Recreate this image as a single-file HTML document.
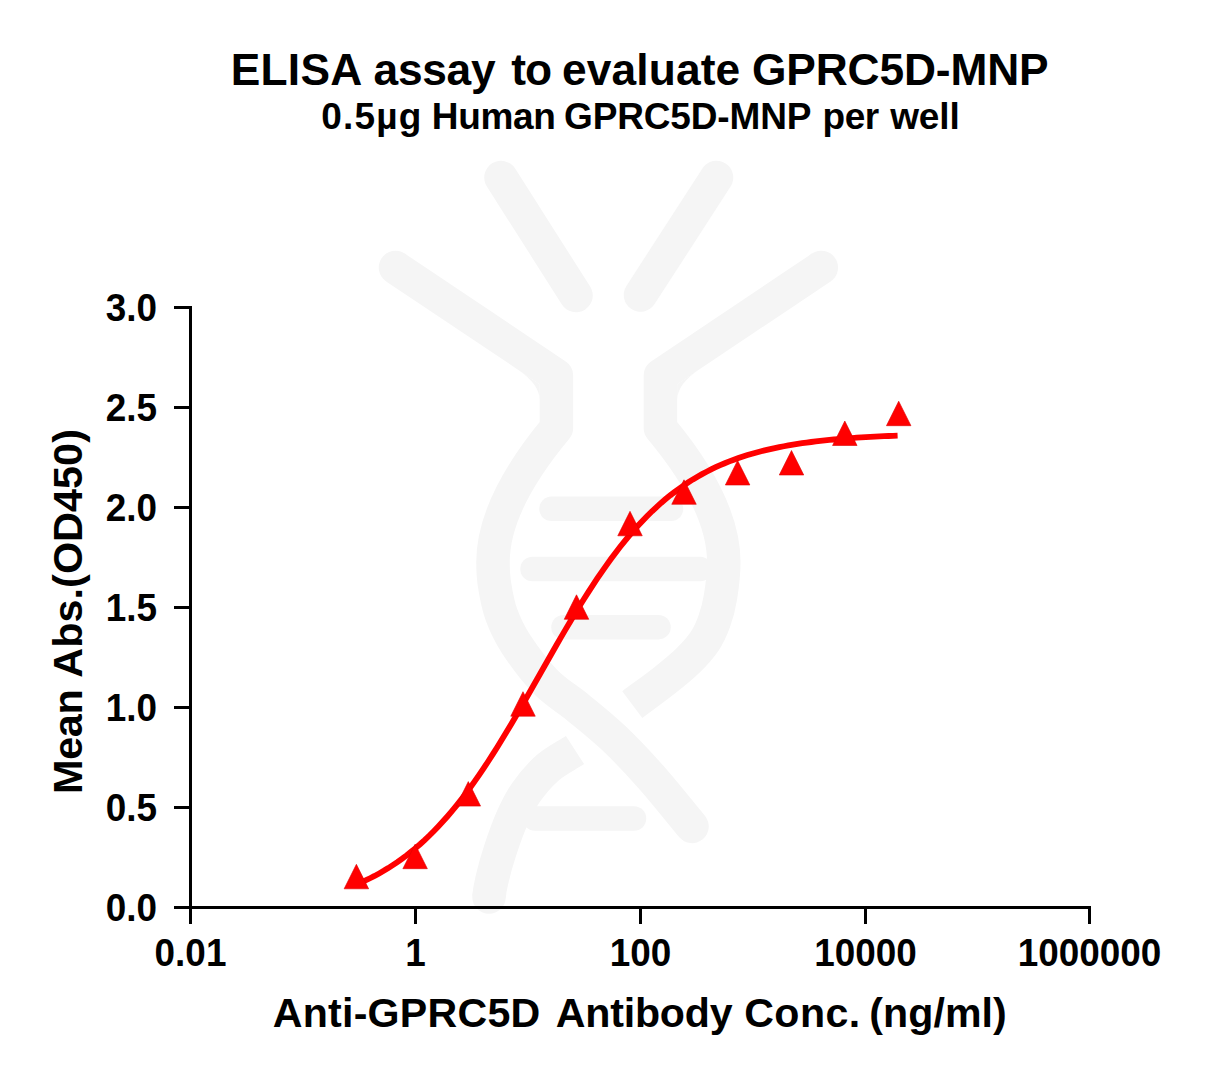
<!DOCTYPE html>
<html><head><meta charset="utf-8"><style>
html,body{margin:0;padding:0;background:#fff;}
svg{display:block;}
text{font-family:"Liberation Sans",Arial,sans-serif;font-weight:bold;fill:#000;}
.tk{font-size:36.9px;}
</style></head><body>
<svg width="1217" height="1079" viewBox="0 0 1217 1079">
<rect width="1217" height="1079" fill="#fff"/>

<g fill="none" stroke="#f5f5f5" stroke-width="33.5" stroke-linecap="round" stroke-linejoin="round">
 <path d="M501 177.5 L576 295.5"/>
 <path d="M716.5 177.5 L640.5 295"/>
 <path d="M395.5 267.5 L556.4 375.3 L556.4 428.0 C527.6 462.6 493.0 512.0 493.0 562.0 C493.0 570.3 493.1 575.8 494.5 584.5 C495.9 593.2 497.6 604.1 501.2 614.0 C504.8 623.9 508.6 632.7 516.0 644.0 C523.4 655.3 535.1 671.2 545.5 681.9 C555.9 692.5 567.0 698.6 578.4 707.9 C589.8 717.2 601.6 726.5 613.6 737.9 C625.6 749.3 637.3 761.6 650.4 776.4 C663.5 791.1 678.1 809.7 692.0 826.4"/>
</g>
<g fill="none" stroke="#f5f5f5" stroke-width="33.5" stroke-linecap="butt">
 <path d="M575 750 C566.0 755.8 556.2 760.4 548.0 767.5 C539.8 774.6 532.0 783.9 526.0 792.5 C520.0 801.1 516.0 809.5 511.7 819.3 C507.4 829.0 503.2 841.3 500.0 851.0 C496.8 860.7 494.3 869.9 492.5 877.6 C490.7 885.3 489.7 888.7 489.0 897.0"/>
</g>
<circle cx="489" cy="897" r="16.75" fill="#f5f5f5"/>
<g fill="none" stroke="#f5f5f5" stroke-width="33.5" stroke-linecap="butt" stroke-linejoin="round">
 <path d="M821.3 267.5 L660.4 375.3 L660.4 428.0 C689.2 462.6 723.8 512.0 723.8 562.0 C723.8 570.3 722.1 587.1 720.5 597.0 C718.9 606.9 716.9 614.1 714.2 621.5 C711.5 628.9 709.0 634.9 704.5 641.5 C700.0 648.1 694.2 654.5 687.5 661.0 C680.8 667.5 673.7 673.2 664.5 680.5 C655.3 687.8 643.0 696.6 632.3 704.6"/>
</g>
<circle cx="821.3" cy="267.5" r="16.75" fill="#f5f5f5"/>
<path fill="#f5f5f5" d="M518 369.7 L539.65 384.3 L539.65 400 Q539.65 384.3 518 369.7Z M698.80 369.7 L677.15 384.3 L677.15 400 Q677.15 384.3 698.80 369.7Z"/>
<g stroke="#f5f5f5" stroke-width="24.5" stroke-linecap="round">
 <path d="M551.5 508.8 L671 508.8"/>
 <path d="M532.5 569 L700 569"/>
 <path d="M563.5 627.2 L658.5 627.2"/>
 <path d="M535 818.5 L634 818.5"/>
</g>

<text x="230.7" y="85" style="font-size:44.3px;letter-spacing:0.275px">ELISA</text><text x="373.6" y="85" style="font-size:44.3px;letter-spacing:-0.3px">assay</text><text x="511.3" y="85" style="font-size:44.3px;letter-spacing:-1.1px">to</text><text x="562.0" y="85" style="font-size:44.3px;letter-spacing:0.129px">evaluate</text><text x="751.9" y="85" style="font-size:44.3px;letter-spacing:-0.122px">GPRC5D-MNP</text><text x="321.2" y="129" style="font-size:37px;letter-spacing:1.2px">0.5µg</text><text x="431.8" y="129" style="font-size:37px;letter-spacing:-0.325px">Human</text><text x="564.1" y="129" style="font-size:37px;letter-spacing:-0.156px">GPRC5D-MNP</text><text x="822.6" y="129" style="font-size:37px;letter-spacing:-0.45px">per</text><text x="890.2" y="129" style="font-size:37px;letter-spacing:-0.1px">well</text>
<g fill="#000">
<rect x="189" y="306" width="3" height="603"/>
<rect x="174" y="906" width="917" height="3"/>
<rect x="174" y="906.0" width="17" height="3"/><text transform="translate(157 920.8) scale(1 1.035)" text-anchor="end" class="tk">0.0</text><rect x="174" y="806.0" width="17" height="3"/><text transform="translate(157 820.8) scale(1 1.035)" text-anchor="end" class="tk">0.5</text><rect x="174" y="706.0" width="17" height="3"/><text transform="translate(157 720.8) scale(1 1.035)" text-anchor="end" class="tk">1.0</text><rect x="174" y="606.0" width="17" height="3"/><text transform="translate(157 620.8) scale(1 1.035)" text-anchor="end" class="tk">1.5</text><rect x="174" y="506.0" width="17" height="3"/><text transform="translate(157 520.8) scale(1 1.035)" text-anchor="end" class="tk">2.0</text><rect x="174" y="406.0" width="17" height="3"/><text transform="translate(157 420.8) scale(1 1.035)" text-anchor="end" class="tk">2.5</text><rect x="174" y="306.0" width="17" height="3"/><text transform="translate(157 320.8) scale(1 1.035)" text-anchor="end" class="tk">3.0</text>
<rect x="189.0" y="906" width="3" height="18"/><text transform="translate(190.5 966) scale(1 1.035)" text-anchor="middle" class="tk">0.01</text><rect x="414.0" y="906" width="3" height="18"/><text transform="translate(415.5 966) scale(1 1.035)" text-anchor="middle" class="tk">1</text><rect x="639.0" y="906" width="3" height="18"/><text transform="translate(640.5 966) scale(1 1.035)" text-anchor="middle" class="tk">100</text><rect x="864.0" y="906" width="3" height="18"/><text transform="translate(865.5 966) scale(1 1.035)" text-anchor="middle" class="tk">10000</text><rect x="1088.0" y="906" width="3" height="18"/><text transform="translate(1089.5 966) scale(1 1.035)" text-anchor="middle" class="tk">1000000</text>
</g>
<text x="272.8" y="1027" style="font-size:41.15px;letter-spacing:0.23px">Anti-GPRC5D</text><text x="555.8" y="1027" style="font-size:41.15px;letter-spacing:-0.214px">Antibody</text><text x="744.2" y="1027" style="font-size:41.15px;letter-spacing:0.45px">Conc.</text><text x="869.3" y="1027" style="font-size:41.15px;letter-spacing:0.067px">(ng/ml)</text><g transform="translate(81.7 0) rotate(-90)"><text x="-793.9" y="0" style="font-size:41.4px;letter-spacing:-0.367px">Mean</text><text x="-677.7" y="0" style="font-size:41.4px;letter-spacing:0.02px">Abs.(OD450)</text></g>
<path d="M356.40 884.53 L360.95 882.56 L365.50 880.47 L370.04 878.26 L374.59 875.93 L379.14 873.45 L383.69 870.84 L388.24 868.08 L392.78 865.17 L397.33 862.11 L401.88 858.88 L406.43 855.48 L410.97 851.90 L415.52 848.15 L420.07 844.21 L424.62 840.08 L429.17 835.75 L433.71 831.23 L438.26 826.51 L442.81 821.59 L447.36 816.46 L451.91 811.12 L456.45 805.58 L461.00 799.84 L465.55 793.89 L470.10 787.74 L474.65 781.39 L479.19 774.86 L483.74 768.14 L488.29 761.24 L492.84 754.18 L497.38 746.95 L501.93 739.58 L506.48 732.08 L511.03 724.45 L515.58 716.72 L520.12 708.90 L524.67 701.00 L529.22 693.04 L533.77 685.04 L538.32 677.02 L542.86 668.99 L547.41 660.97 L551.96 652.98 L556.51 645.04 L561.06 637.16 L565.60 629.36 L570.15 621.66 L574.70 614.06 L579.25 606.60 L583.79 599.27 L588.34 592.09 L592.89 585.07 L597.44 578.23 L601.99 571.56 L606.53 565.08 L611.08 558.79 L615.63 552.69 L620.18 546.80 L624.73 541.12 L629.27 535.63 L633.82 530.36 L638.37 525.29 L642.92 520.42 L647.47 515.76 L652.01 511.30 L656.56 507.03 L661.11 502.95 L665.66 499.07 L670.21 495.36 L674.75 491.84 L679.30 488.49 L683.85 485.31 L688.40 482.28 L692.94 479.42 L697.49 476.70 L702.04 474.13 L706.59 471.70 L711.14 469.40 L715.68 467.23 L720.23 465.17 L724.78 463.23 L729.33 461.41 L733.88 459.68 L738.42 458.06 L742.97 456.53 L747.52 455.09 L752.07 453.73 L756.62 452.46 L761.16 451.25 L765.71 450.13 L770.26 449.07 L774.81 448.07 L779.35 447.13 L783.90 446.25 L788.45 445.43 L793.00 444.65 L797.55 443.92 L802.09 443.24 L806.64 442.60 L811.19 442.00 L815.74 441.44 L820.29 440.91 L824.83 440.41 L829.38 439.95 L833.93 439.51 L838.48 439.11 L843.03 438.72 L847.57 438.37 L852.12 438.03 L856.67 437.72 L861.22 437.42 L865.76 437.15 L870.31 436.89 L874.86 436.65 L879.41 436.42 L883.96 436.21 L888.50 436.01 L893.05 435.82 L897.60 435.65" fill="none" stroke="#f00" stroke-width="5.8"/>
<g fill="#f00" stroke="#d00" stroke-width="0.6"><path d="M356.40 864.30 L368.65 888.80 L344.15 888.80Z"/><path d="M415.10 844.20 L427.35 868.70 L402.85 868.70Z"/><path d="M468.30 781.60 L480.55 806.10 L456.05 806.10Z"/><path d="M523.00 691.70 L535.25 716.20 L510.75 716.20Z"/><path d="M576.50 594.80 L588.75 619.30 L564.25 619.30Z"/><path d="M630.00 511.30 L642.25 535.80 L617.75 535.80Z"/><path d="M684.00 479.80 L696.25 504.30 L671.75 504.30Z"/><path d="M737.60 460.50 L749.85 485.00 L725.35 485.00Z"/><path d="M791.50 450.50 L803.75 475.00 L779.25 475.00Z"/><path d="M844.80 421.00 L857.05 445.50 L832.55 445.50Z"/><path d="M898.70 401.20 L910.95 425.70 L886.45 425.70Z"/></g>
</svg>
</body></html>
